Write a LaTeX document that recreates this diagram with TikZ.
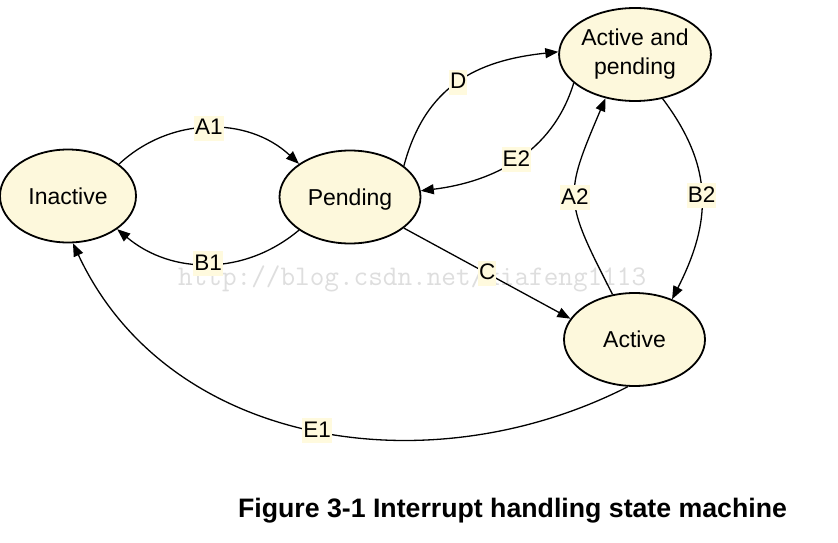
\documentclass[tikz,border=0pt]{standalone}
\usepackage{fontspec}
\setmainfont{Liberation Sans}
\usetikzlibrary{shapes.geometric,arrows.meta}
\definecolor{nodefill}{RGB}{253,248,220}
\definecolor{labfill}{RGB}{255,250,222}
\definecolor{wmgray}{RGB}{222,222,222}
\begin{document}
\begin{tikzpicture}[x=1pt,y=1pt,
  state/.style={ellipse,draw=black,line width=1.8pt,fill=nodefill,
    minimum width=141pt,minimum height=93pt,inner sep=0pt,
    font=\fontsize{23}{29}\selectfont},
  oneline/.style={text height=16.5pt,text depth=0pt},
  conn/.style={line width=1.3pt,-{Triangle[length=13pt,width=10pt]}},
  lab/.style={fill=labfill,inner xsep=1pt,inner ysep=0pt,
    text height=19pt,text depth=6pt,font=\fontsize{22.5}{26}\selectfont}]
\useasboundingbox (0,0) rectangle (838,-543);
\fill[white] (0,0) rectangle (838,-543);

\node[anchor=base west,inner sep=0pt,text=wmgray,
  font=\fontsize{28.4}{30}\ttfamily] (wm) at (178,-285)
  {http://blog.csdn.net/xiafeng1113};

\node[state,oneline,minimum width=136pt] (inactive) at (68,-196) {Inactive};
\node[state,oneline] (pending) at (350,-197) {Pending};
\node[state,align=center] (anp) at (635,-54.5) {Active and\\pending};
\node[state,oneline] (active) at (634.5,-339.5) {Active};

\draw[conn] (inactive.32) to[out=43,in=137] node[lab]{A1} (pending.147);
\draw[conn] (pending.213) to[out=220,in=-40] node[lab]{B1} (inactive.-34);
\draw[conn] (pending.30) to[out=75,in=186,looseness=1.1] node[lab]{D} (anp.178);
\draw[conn] (anp.205) to[out=253,in=7] node[lab]{E2} (pending.5);
\draw[conn] (active.116) to[out=117,in=247,looseness=1.4] node[lab]{A2} (anp.236);
\draw[conn] (anp.-58) to[out=-53,in=63,looseness=1.1] node[lab]{B2} (active.47);
\draw[conn] (pending.-30) -- node[lab]{C} (active.162);
\draw[conn] (active.262) to[out=207,in=295] node[lab,pos=0.49]{E1} (inactive.276);

\node[anchor=base,inner sep=0pt,font=\fontsize{26.7}{30}\selectfont\bfseries]
  (cap) at (512.5,-517) {Figure 3-1 Interrupt handling state machine};
\end{tikzpicture}
\end{document}
